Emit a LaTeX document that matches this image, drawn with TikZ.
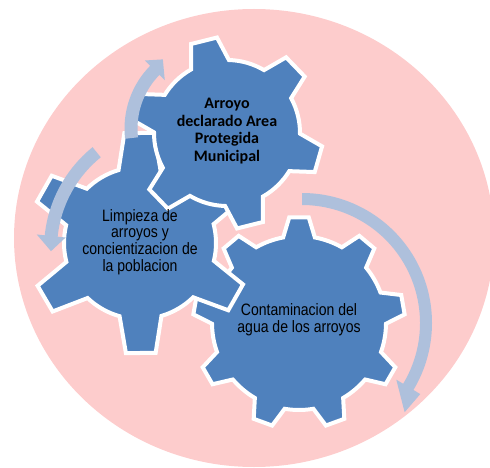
\documentclass[tikz,border=0pt]{standalone}
\usepackage{fontspec}
\setmainfont{Liberation Sans}
\newfontfamily\calibrifont{Carlito}
\newfontfamily\narrowfont[FakeStretch=0.85]{Liberation Sans}

\definecolor{pinkbg}{RGB}{253,204,204}
\definecolor{gearblue}{RGB}{79,129,189}
\definecolor{arrowblue}{RGB}{174,192,220}

\tikzset{
  gearshape/.style={fill=gearblue, draw=white, line width=4pt},
  geartext/.style={align=center, text=black, inner sep=0pt, font=\narrowfont\fontsize{16.5}{16.7}\selectfont},
  boldtext/.style={align=center, text=black, inner sep=0pt, font=\calibrifont\bfseries\fontsize{16}{17.4}\selectfont},
  turnarrow/.style={fill=arrowblue}
}

% centre, teeth, root radius, tip radius, half angle at root, half angle at tip, first tooth angle
\newcommand{\drawgear}[7]{%
  \filldraw[gearshape, shift={(#1)}] ({#7-#5}:#3)
    \foreach \k in {1,...,#2}{
      -- ({#7+(\k-1)*360/#2-#5}:#3) -- ({#7+(\k-1)*360/#2-#6}:#4)
      -- ({#7+(\k-1)*360/#2+#6}:#4) -- ({#7+(\k-1)*360/#2+#5}:#3)
      arc[start angle={#7+(\k-1)*360/#2+#5}, delta angle={360/#2-2*#5}, radius=#3]
    } -- cycle;
}

\begin{document}
\begin{tikzpicture}[x=1pt, y=1pt]

\useasboundingbox (0,0) rectangle (490,-468);
\fill[pinkbg] (254,-238) ellipse[x radius=240, y radius=229];

\coordinate (arroyoc) at (227,-133);
\coordinate (limpiezac) at (140,-243);
\coordinate (contaminacionc) at (299,-323);

\drawgear{contaminacionc}{9}{87}{106}{10.5}{5.3}{90}
\drawgear{limpiezac}{6}{76}{111}{16}{7.7}{90.4}
\drawgear{arroyoc}{6}{73}{96}{15.5}{8}{104}

\begin{scope}[shift={(302,-323)}]
\fill[turnarrow] (90:130) arc[start angle=90, end angle=-31, radius=130] -- (-31:138) -- (-41:136)
  -- (-31:110) -- (-31:118) arc[start angle=-31, end angle=90, radius=118] -- cycle;
\end{scope}
\begin{scope}[shift={(175,-249)}]
\fill[turnarrow] (129:118) arc[start angle=129, end angle=174, radius=118] -- (174:110) -- (181:124)
  -- (174:139) -- (174:131) arc[start angle=174, end angle=129, radius=131] -- cycle;
\end{scope}
\begin{scope}[shift={(214,-128.5)}]
\fill[turnarrow] (186.6:89.5) arc[start angle=186.6, end angle=135.5, radius=89.5] -- (135.5:97) -- (126.5:86)
  -- (135.5:69) -- (135.5:76.5) arc[start angle=135.5, end angle=186.6, radius=76.5] -- cycle;
\end{scope}

\node[boldtext] (arroyo) at ([yshift=2pt]arroyoc) {Arroyo\\declarado Area\\Protegida\\Municipal};
\node[geartext] (limpieza) at ([yshift=1pt]limpiezac) {Limpieza de\\arroyos y\\concientizacion de\\la poblacion};
\node[geartext] (contaminacion) at ([yshift=3pt]contaminacionc) {Contaminacion del\\agua de los arroyos};

\end{tikzpicture}
\end{document}
